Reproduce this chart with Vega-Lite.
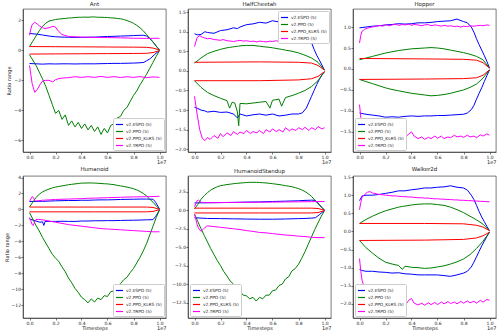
{
"$schema":"https://vega.github.io/schema/vega-lite/v6.json",
"padding":{"left":3,"top":1,"right":0,"bottom":0},
"background":"white",
"config":{"font":"DejaVu Sans","view":{"stroke":"#222","strokeWidth":0.6},
"axis":{"grid":false,"labelOverlap":false,"labelFontSize":4.5,"titleFontSize":5,"titleFontWeight":"normal","tickSize":2,"labelPadding":0.5,"domainColor":"#222","tickColor":"#222","labelColor":"#222","titleColor":"#222","domainWidth":0.6,"tickWidth":0.6,"titlePadding":2},
"title":{"fontSize":5.5,"fontWeight":"normal","offset":2,"color":"#222"},
"legend":{"labelFontSize":4.3,"symbolType":"stroke","symbolStrokeWidth":1.2,"symbolSize":50,"rowPadding":-1,"padding":2,"fillColor":"white","strokeColor":"#ccc","cornerRadius":1,"offset":2,"labelOffset":2,"labelColor":"#222"}},
"datasets":{
"ant":[
{"s":"E","x":0,"hi":1.12,"lo":-0.88},{"s":"E","x":0.05,"hi":1.08,"lo":-0.9},{"s":"E","x":0.1,"hi":1.02,"lo":-0.92},{"s":"E","x":0.15,"hi":0.95,"lo":-0.9},{"s":"E","x":0.2,"hi":0.9,"lo":-0.91},{"s":"E","x":0.25,"hi":0.88,"lo":-0.9},{"s":"E","x":0.3,"hi":0.87,"lo":-0.9},{"s":"E","x":0.35,"hi":0.86,"lo":-0.91},{"s":"E","x":0.4,"hi":0.86,"lo":-0.9},{"s":"E","x":0.45,"hi":0.87,"lo":-0.9},{"s":"E","x":0.5,"hi":0.88,"lo":-0.9},{"s":"E","x":0.55,"hi":0.9,"lo":-0.89},{"s":"E","x":0.6,"hi":0.92,"lo":-0.88},{"s":"E","x":0.65,"hi":0.93,"lo":-0.87},{"s":"E","x":0.7,"hi":0.95,"lo":-0.87},{"s":"E","x":0.75,"hi":0.96,"lo":-0.86},{"s":"E","x":0.8,"hi":0.98,"lo":-0.85},{"s":"E","x":0.85,"hi":1.0,"lo":-0.83},{"s":"E","x":0.88,"hi":1.0,"lo":-0.8},{"s":"E","x":0.9,"hi":0.95,"lo":-0.7},{"s":"E","x":0.93,"hi":0.75,"lo":-0.55},{"s":"E","x":0.96,"hi":0.45,"lo":-0.3},{"s":"E","x":0.98,"hi":0.22,"lo":-0.15},{"s":"E","x":1,"hi":0.02,"lo":-0.02},
{"s":"P","x":0,"hi":0.25,"lo":-0.3},{"s":"P","x":0.025,"hi":0.6,"lo":-0.65},{"s":"P","x":0.05,"hi":0.95,"lo":-1.0},{"s":"P","x":0.075,"hi":1.3,"lo":-1.45},{"s":"P","x":0.1,"hi":1.6,"lo":-1.9},{"s":"P","x":0.125,"hi":1.8,"lo":-2.4},{"s":"P","x":0.15,"hi":1.95,"lo":-3.0},{"s":"P","x":0.175,"hi":2.0,"lo":-3.6},{"s":"P","x":0.2,"hi":2.05,"lo":-4.2},{"s":"P","x":0.225,"hi":2.08,"lo":-4.0},{"s":"P","x":0.25,"hi":2.1,"lo":-4.6},{"s":"P","x":0.275,"hi":2.12,"lo":-4.3},{"s":"P","x":0.3,"hi":2.15,"lo":-5.0},{"s":"P","x":0.325,"hi":2.16,"lo":-4.7},{"s":"P","x":0.35,"hi":2.18,"lo":-5.1},{"s":"P","x":0.375,"hi":2.2,"lo":-4.8},{"s":"P","x":0.4,"hi":2.2,"lo":-5.2},{"s":"P","x":0.425,"hi":2.21,"lo":-4.9},{"s":"P","x":0.45,"hi":2.2,"lo":-5.3},{"s":"P","x":0.475,"hi":2.22,"lo":-5.0},{"s":"P","x":0.5,"hi":2.22,"lo":-5.4},{"s":"P","x":0.525,"hi":2.2,"lo":-5.1},{"s":"P","x":0.55,"hi":2.2,"lo":-5.6},{"s":"P","x":0.575,"hi":2.19,"lo":-5.2},{"s":"P","x":0.6,"hi":2.18,"lo":-5.5},{"s":"P","x":0.625,"hi":2.16,"lo":-5.0},{"s":"P","x":0.65,"hi":2.15,"lo":-4.9},{"s":"P","x":0.675,"hi":2.12,"lo":-4.5},{"s":"P","x":0.7,"hi":2.1,"lo":-4.4},{"s":"P","x":0.725,"hi":2.05,"lo":-4.0},{"s":"P","x":0.75,"hi":1.98,"lo":-3.8},{"s":"P","x":0.775,"hi":1.9,"lo":-3.4},{"s":"P","x":0.8,"hi":1.8,"lo":-3.0},{"s":"P","x":0.825,"hi":1.66,"lo":-2.7},{"s":"P","x":0.85,"hi":1.5,"lo":-2.3},{"s":"P","x":0.875,"hi":1.3,"lo":-1.95},{"s":"P","x":0.9,"hi":1.05,"lo":-1.6},{"s":"P","x":0.925,"hi":0.8,"lo":-1.2},{"s":"P","x":0.95,"hi":0.55,"lo":-0.8},{"s":"P","x":0.975,"hi":0.28,"lo":-0.4},{"s":"P","x":1,"hi":0.02,"lo":-0.02},
{"s":"K","x":0,"hi":0.25,"lo":-0.25},{"s":"K","x":0.2,"hi":0.24,"lo":-0.24},{"s":"K","x":0.4,"hi":0.23,"lo":-0.23},{"s":"K","x":0.6,"hi":0.22,"lo":-0.22},{"s":"K","x":0.8,"hi":0.21,"lo":-0.21},{"s":"K","x":0.9,"hi":0.2,"lo":-0.2},{"s":"K","x":0.95,"hi":0.15,"lo":-0.15},{"s":"K","x":1,"hi":0.02,"lo":-0.02},
{"s":"T","x":0,"hi":1.0,"lo":-1.0},{"s":"T","x":0.01,"hi":1.4,"lo":-1.6},{"s":"T","x":0.02,"hi":1.7,"lo":-2.2},{"s":"T","x":0.04,"hi":1.87,"lo":-2.8},{"s":"T","x":0.06,"hi":1.75,"lo":-2.6},{"s":"T","x":0.08,"hi":1.6,"lo":-2.3},{"s":"T","x":0.1,"hi":1.5,"lo":-2.05},{"s":"T","x":0.12,"hi":1.45,"lo":-2.0},{"s":"T","x":0.15,"hi":1.5,"lo":-2.0},{"s":"T","x":0.18,"hi":1.6,"lo":-2.1},{"s":"T","x":0.2,"hi":1.55,"lo":-1.95},{"s":"T","x":0.22,"hi":1.3,"lo":-1.9},{"s":"T","x":0.25,"hi":1.05,"lo":-1.85},{"s":"T","x":0.3,"hi":0.92,"lo":-1.82},{"s":"T","x":0.35,"hi":0.9,"lo":-1.76},{"s":"T","x":0.4,"hi":0.88,"lo":-1.8},{"s":"T","x":0.45,"hi":0.87,"lo":-1.76},{"s":"T","x":0.5,"hi":0.86,"lo":-1.8},{"s":"T","x":0.55,"hi":0.85,"lo":-1.74},{"s":"T","x":0.6,"hi":0.85,"lo":-1.8},{"s":"T","x":0.65,"hi":0.84,"lo":-1.75},{"s":"T","x":0.7,"hi":0.83,"lo":-1.81},{"s":"T","x":0.75,"hi":0.82,"lo":-1.76},{"s":"T","x":0.8,"hi":0.8,"lo":-1.8},{"s":"T","x":0.85,"hi":0.8,"lo":-1.75},{"s":"T","x":0.9,"hi":0.79,"lo":-1.82},{"s":"T","x":0.95,"hi":0.8,"lo":-1.77},{"s":"T","x":1,"hi":0.8,"lo":-1.8}],
"hc":[
{"s":"E","x":0,"hi":0.95,"lo":-0.93},{"s":"E","x":0.02,"hi":0.92,"lo":-0.95},{"s":"E","x":0.05,"hi":0.93,"lo":-1.0},{"s":"E","x":0.08,"hi":1.0,"lo":-1.02},{"s":"E","x":0.1,"hi":0.98,"lo":-1.05},{"s":"E","x":0.15,"hi":0.96,"lo":-1.03},{"s":"E","x":0.2,"hi":1.03,"lo":-1.06},{"s":"E","x":0.25,"hi":1.05,"lo":-1.05},{"s":"E","x":0.3,"hi":1.1,"lo":-1.1},{"s":"E","x":0.33,"hi":1.08,"lo":-1.2},{"s":"E","x":0.35,"hi":1.12,"lo":-1.1},{"s":"E","x":0.4,"hi":1.18,"lo":-1.15},{"s":"E","x":0.45,"hi":1.2,"lo":-1.12},{"s":"E","x":0.5,"hi":1.24,"lo":-1.1},{"s":"E","x":0.55,"hi":1.22,"lo":-1.13},{"s":"E","x":0.6,"hi":1.28,"lo":-1.1},{"s":"E","x":0.65,"hi":1.25,"lo":-1.15},{"s":"E","x":0.7,"hi":1.24,"lo":-1.13},{"s":"E","x":0.75,"hi":1.22,"lo":-1.1},{"s":"E","x":0.8,"hi":1.2,"lo":-1.1},{"s":"E","x":0.83,"hi":1.15,"lo":-1.07},{"s":"E","x":0.86,"hi":1.05,"lo":-0.95},{"s":"E","x":0.88,"hi":0.9,"lo":-0.8},{"s":"E","x":0.9,"hi":0.72,"lo":-0.65},{"s":"E","x":0.92,"hi":0.55,"lo":-0.5},{"s":"E","x":0.94,"hi":0.4,"lo":-0.35},{"s":"E","x":0.96,"hi":0.28,"lo":-0.22},{"s":"E","x":0.98,"hi":0.15,"lo":-0.1},{"s":"E","x":1,"hi":0.02,"lo":-0.02},
{"s":"P","x":0,"hi":0.2,"lo":-0.25},{"s":"P","x":0.05,"hi":0.33,"lo":-0.42},{"s":"P","x":0.1,"hi":0.44,"lo":-0.55},{"s":"P","x":0.15,"hi":0.5,"lo":-0.63},{"s":"P","x":0.2,"hi":0.55,"lo":-0.7},{"s":"P","x":0.25,"hi":0.59,"lo":-0.76},{"s":"P","x":0.27,"hi":0.6,"lo":-0.95},{"s":"P","x":0.29,"hi":0.61,"lo":-0.8},{"s":"P","x":0.31,"hi":0.62,"lo":-0.82},{"s":"P","x":0.33,"hi":0.63,"lo":-1.05},{"s":"P","x":0.34,"hi":0.63,"lo":-1.4},{"s":"P","x":0.35,"hi":0.64,"lo":-0.83},{"s":"P","x":0.4,"hi":0.65,"lo":-0.84},{"s":"P","x":0.45,"hi":0.65,"lo":-0.82},{"s":"P","x":0.5,"hi":0.63,"lo":-0.8},{"s":"P","x":0.55,"hi":0.61,"lo":-0.78},{"s":"P","x":0.58,"hi":0.6,"lo":-0.95},{"s":"P","x":0.6,"hi":0.59,"lo":-0.75},{"s":"P","x":0.65,"hi":0.56,"lo":-0.72},{"s":"P","x":0.67,"hi":0.55,"lo":-0.9},{"s":"P","x":0.7,"hi":0.53,"lo":-0.68},{"s":"P","x":0.75,"hi":0.5,"lo":-0.63},{"s":"P","x":0.8,"hi":0.46,"lo":-0.57},{"s":"P","x":0.85,"hi":0.4,"lo":-0.5},{"s":"P","x":0.9,"hi":0.33,"lo":-0.4},{"s":"P","x":0.95,"hi":0.22,"lo":-0.25},{"s":"P","x":1,"hi":0.02,"lo":-0.02},
{"s":"K","x":0,"hi":0.22,"lo":-0.25},{"s":"K","x":0.5,"hi":0.23,"lo":-0.25},{"s":"K","x":0.8,"hi":0.22,"lo":-0.23},{"s":"K","x":0.9,"hi":0.2,"lo":-0.2},{"s":"K","x":0.95,"hi":0.14,"lo":-0.14},{"s":"K","x":1,"hi":0.02,"lo":-0.02},
{"s":"T","x":0,"hi":0.62,"lo":-0.65},{"s":"T","x":0.02,"hi":0.85,"lo":-1.1},{"s":"T","x":0.04,"hi":0.9,"lo":-1.5},{"s":"T","x":0.06,"hi":0.86,"lo":-1.72},{"s":"T","x":0.08,"hi":0.84,"lo":-1.78},{"s":"T","x":0.1,"hi":0.82,"lo":-1.7},{"s":"T","x":0.12,"hi":0.83,"lo":-1.75},{"s":"T","x":0.15,"hi":0.8,"lo":-1.65},{"s":"T","x":0.18,"hi":0.79,"lo":-1.72},{"s":"T","x":0.2,"hi":0.78,"lo":-1.6},{"s":"T","x":0.22,"hi":0.8,"lo":-1.68},{"s":"T","x":0.25,"hi":0.77,"lo":-1.58},{"s":"T","x":0.28,"hi":0.76,"lo":-1.65},{"s":"T","x":0.3,"hi":0.75,"lo":-1.55},{"s":"T","x":0.33,"hi":0.77,"lo":-1.62},{"s":"T","x":0.35,"hi":0.78,"lo":-1.56},{"s":"T","x":0.38,"hi":0.76,"lo":-1.6},{"s":"T","x":0.4,"hi":0.77,"lo":-1.52},{"s":"T","x":0.43,"hi":0.75,"lo":-1.6},{"s":"T","x":0.45,"hi":0.76,"lo":-1.55},{"s":"T","x":0.48,"hi":0.74,"lo":-1.58},{"s":"T","x":0.5,"hi":0.76,"lo":-1.52},{"s":"T","x":0.53,"hi":0.75,"lo":-1.6},{"s":"T","x":0.55,"hi":0.74,"lo":-1.5},{"s":"T","x":0.58,"hi":0.76,"lo":-1.56},{"s":"T","x":0.6,"hi":0.75,"lo":-1.48},{"s":"T","x":0.63,"hi":0.77,"lo":-1.55},{"s":"T","x":0.65,"hi":0.75,"lo":-1.5},{"s":"T","x":0.68,"hi":0.76,"lo":-1.56},{"s":"T","x":0.7,"hi":0.77,"lo":-1.45},{"s":"T","x":0.73,"hi":0.74,"lo":-1.53},{"s":"T","x":0.75,"hi":0.75,"lo":-1.48},{"s":"T","x":0.78,"hi":0.76,"lo":-1.52},{"s":"T","x":0.8,"hi":0.74,"lo":-1.45},{"s":"T","x":0.83,"hi":0.75,"lo":-1.5},{"s":"T","x":0.85,"hi":0.74,"lo":-1.44},{"s":"T","x":0.88,"hi":0.75,"lo":-1.52},{"s":"T","x":0.9,"hi":0.73,"lo":-1.45},{"s":"T","x":0.93,"hi":0.75,"lo":-1.5},{"s":"T","x":0.95,"hi":0.74,"lo":-1.42},{"s":"T","x":0.98,"hi":0.75,"lo":-1.48},{"s":"T","x":1,"hi":0.74,"lo":-1.45}],
"hop":[
{"s":"E","x":0,"hi":0.98,"lo":-1.05},{"s":"E","x":0.05,"hi":1.0,"lo":-1.08},{"s":"E","x":0.1,"hi":1.02,"lo":-1.1},{"s":"E","x":0.15,"hi":1.03,"lo":-1.12},{"s":"E","x":0.2,"hi":1.05,"lo":-1.15},{"s":"E","x":0.25,"hi":1.06,"lo":-1.14},{"s":"E","x":0.3,"hi":1.08,"lo":-1.15},{"s":"E","x":0.35,"hi":1.07,"lo":-1.13},{"s":"E","x":0.4,"hi":1.08,"lo":-1.12},{"s":"E","x":0.45,"hi":1.1,"lo":-1.13},{"s":"E","x":0.5,"hi":1.1,"lo":-1.12},{"s":"E","x":0.55,"hi":1.11,"lo":-1.12},{"s":"E","x":0.6,"hi":1.13,"lo":-1.11},{"s":"E","x":0.65,"hi":1.14,"lo":-1.11},{"s":"E","x":0.7,"hi":1.15,"lo":-1.1},{"s":"E","x":0.75,"hi":1.19,"lo":-1.09},{"s":"E","x":0.8,"hi":1.13,"lo":-1.08},{"s":"E","x":0.83,"hi":1.1,"lo":-1.05},{"s":"E","x":0.86,"hi":1.0,"lo":-0.97},{"s":"E","x":0.88,"hi":0.88,"lo":-0.87},{"s":"E","x":0.9,"hi":0.72,"lo":-0.72},{"s":"E","x":0.92,"hi":0.58,"lo":-0.58},{"s":"E","x":0.94,"hi":0.45,"lo":-0.45},{"s":"E","x":0.96,"hi":0.32,"lo":-0.3},{"s":"E","x":0.98,"hi":0.18,"lo":-0.16},{"s":"E","x":1,"hi":0.02,"lo":-0.02},
{"s":"P","x":0,"hi":0.22,"lo":-0.25},{"s":"P","x":0.05,"hi":0.26,"lo":-0.3},{"s":"P","x":0.1,"hi":0.3,"lo":-0.35},{"s":"P","x":0.15,"hi":0.34,"lo":-0.4},{"s":"P","x":0.2,"hi":0.38,"lo":-0.45},{"s":"P","x":0.25,"hi":0.41,"lo":-0.49},{"s":"P","x":0.3,"hi":0.44,"lo":-0.52},{"s":"P","x":0.35,"hi":0.46,"lo":-0.55},{"s":"P","x":0.4,"hi":0.48,"lo":-0.58},{"s":"P","x":0.45,"hi":0.49,"lo":-0.6},{"s":"P","x":0.5,"hi":0.5,"lo":-0.62},{"s":"P","x":0.55,"hi":0.51,"lo":-0.64},{"s":"P","x":0.6,"hi":0.5,"lo":-0.63},{"s":"P","x":0.65,"hi":0.48,"lo":-0.61},{"s":"P","x":0.7,"hi":0.45,"lo":-0.58},{"s":"P","x":0.75,"hi":0.42,"lo":-0.54},{"s":"P","x":0.8,"hi":0.39,"lo":-0.5},{"s":"P","x":0.85,"hi":0.35,"lo":-0.44},{"s":"P","x":0.9,"hi":0.3,"lo":-0.36},{"s":"P","x":0.95,"hi":0.22,"lo":-0.22},{"s":"P","x":1,"hi":0.02,"lo":-0.02},
{"s":"K","x":0,"hi":0.25,"lo":-0.25},{"s":"K","x":0.5,"hi":0.24,"lo":-0.24},{"s":"K","x":0.8,"hi":0.23,"lo":-0.23},{"s":"K","x":0.9,"hi":0.21,"lo":-0.21},{"s":"K","x":0.95,"hi":0.15,"lo":-0.15},{"s":"K","x":1,"hi":0.02,"lo":-0.02},
{"s":"T","x":0,"hi":0.62,"lo":-0.85},{"s":"T","x":0.01,"hi":0.8,"lo":-1.15},{"s":"T","x":0.02,"hi":0.9,"lo":-1.35},{"s":"T","x":0.04,"hi":0.95,"lo":-1.5},{"s":"T","x":0.06,"hi":0.97,"lo":-1.6},{"s":"T","x":0.08,"hi":0.99,"lo":-1.63},{"s":"T","x":0.1,"hi":1.0,"lo":-1.66},{"s":"T","x":0.13,"hi":1.02,"lo":-1.62},{"s":"T","x":0.15,"hi":1.04,"lo":-1.68},{"s":"T","x":0.18,"hi":1.02,"lo":-1.63},{"s":"T","x":0.2,"hi":1.06,"lo":-1.66},{"s":"T","x":0.23,"hi":1.03,"lo":-1.6},{"s":"T","x":0.25,"hi":1.05,"lo":-1.65},{"s":"T","x":0.28,"hi":1.07,"lo":-1.62},{"s":"T","x":0.3,"hi":1.04,"lo":-1.66},{"s":"T","x":0.33,"hi":1.06,"lo":-1.6},{"s":"T","x":0.35,"hi":1.05,"lo":-1.63},{"s":"T","x":0.38,"hi":1.07,"lo":-1.55},{"s":"T","x":0.4,"hi":1.04,"lo":-1.5},{"s":"T","x":0.42,"hi":1.06,"lo":-1.6},{"s":"T","x":0.45,"hi":1.05,"lo":-1.66},{"s":"T","x":0.48,"hi":1.03,"lo":-1.62},{"s":"T","x":0.5,"hi":1.05,"lo":-1.68},{"s":"T","x":0.53,"hi":1.06,"lo":-1.63},{"s":"T","x":0.55,"hi":1.03,"lo":-1.66},{"s":"T","x":0.58,"hi":1.05,"lo":-1.6},{"s":"T","x":0.6,"hi":1.04,"lo":-1.65},{"s":"T","x":0.63,"hi":1.02,"lo":-1.6},{"s":"T","x":0.65,"hi":1.04,"lo":-1.66},{"s":"T","x":0.68,"hi":1.02,"lo":-1.62},{"s":"T","x":0.7,"hi":1.03,"lo":-1.64},{"s":"T","x":0.73,"hi":1.01,"lo":-1.58},{"s":"T","x":0.75,"hi":1.02,"lo":-1.62},{"s":"T","x":0.78,"hi":1.0,"lo":-1.6},{"s":"T","x":0.8,"hi":1.02,"lo":-1.63},{"s":"T","x":0.83,"hi":1.01,"lo":-1.58},{"s":"T","x":0.85,"hi":1.03,"lo":-1.62},{"s":"T","x":0.88,"hi":1.02,"lo":-1.6},{"s":"T","x":0.9,"hi":1.03,"lo":-1.64},{"s":"T","x":0.93,"hi":1.04,"lo":-1.57},{"s":"T","x":0.95,"hi":1.03,"lo":-1.6},{"s":"T","x":0.98,"hi":1.05,"lo":-1.55},{"s":"T","x":1,"hi":1.04,"lo":-1.58}],
"hum":[
{"s":"E","x":0,"hi":1.0,"lo":-1.2},{"s":"E","x":0.05,"hi":1.0,"lo":-1.45},{"s":"E","x":0.08,"hi":1.02,"lo":-1.6},{"s":"E","x":0.1,"hi":1.02,"lo":-1.55},{"s":"E","x":0.11,"hi":1.0,"lo":-2.0},{"s":"E","x":0.12,"hi":1.03,"lo":-1.5},{"s":"E","x":0.15,"hi":1.05,"lo":-1.5},{"s":"E","x":0.2,"hi":1.08,"lo":-1.5},{"s":"E","x":0.25,"hi":1.1,"lo":-1.48},{"s":"E","x":0.3,"hi":1.12,"lo":-1.5},{"s":"E","x":0.35,"hi":1.12,"lo":-1.5},{"s":"E","x":0.4,"hi":1.15,"lo":-1.45},{"s":"E","x":0.45,"hi":1.15,"lo":-1.45},{"s":"E","x":0.5,"hi":1.18,"lo":-1.42},{"s":"E","x":0.55,"hi":1.2,"lo":-1.42},{"s":"E","x":0.6,"hi":1.2,"lo":-1.4},{"s":"E","x":0.65,"hi":1.22,"lo":-1.4},{"s":"E","x":0.7,"hi":1.25,"lo":-1.38},{"s":"E","x":0.75,"hi":1.27,"lo":-1.36},{"s":"E","x":0.8,"hi":1.28,"lo":-1.35},{"s":"E","x":0.85,"hi":1.3,"lo":-1.33},{"s":"E","x":0.9,"hi":1.3,"lo":-1.3},{"s":"E","x":0.95,"hi":1.28,"lo":-1.28},{"s":"E","x":0.97,"hi":0.9,"lo":-0.9},{"s":"E","x":0.99,"hi":0.35,"lo":-0.35},{"s":"E","x":1,"hi":0.02,"lo":-0.02},
{"s":"P","x":0,"hi":0.3,"lo":-0.4},{"s":"P","x":0.025,"hi":0.9,"lo":-1.2},{"s":"P","x":0.05,"hi":1.5,"lo":-2.0},{"s":"P","x":0.075,"hi":1.9,"lo":-2.7},{"s":"P","x":0.1,"hi":2.2,"lo":-3.5},{"s":"P","x":0.125,"hi":2.4,"lo":-4.2},{"s":"P","x":0.15,"hi":2.55,"lo":-4.9},{"s":"P","x":0.175,"hi":2.7,"lo":-5.6},{"s":"P","x":0.2,"hi":2.8,"lo":-6.1},{"s":"P","x":0.225,"hi":2.88,"lo":-6.5},{"s":"P","x":0.25,"hi":2.95,"lo":-7.2},{"s":"P","x":0.275,"hi":3.02,"lo":-7.8},{"s":"P","x":0.3,"hi":3.1,"lo":-8.6},{"s":"P","x":0.325,"hi":3.15,"lo":-9.2},{"s":"P","x":0.35,"hi":3.2,"lo":-9.9},{"s":"P","x":0.375,"hi":3.25,"lo":-10.4},{"s":"P","x":0.4,"hi":3.3,"lo":-11.0},{"s":"P","x":0.425,"hi":3.3,"lo":-11.3},{"s":"P","x":0.45,"hi":3.32,"lo":-11.7},{"s":"P","x":0.475,"hi":3.32,"lo":-11.2},{"s":"P","x":0.5,"hi":3.3,"lo":-11.6},{"s":"P","x":0.525,"hi":3.28,"lo":-11.1},{"s":"P","x":0.55,"hi":3.25,"lo":-11.3},{"s":"P","x":0.575,"hi":3.22,"lo":-10.8},{"s":"P","x":0.6,"hi":3.2,"lo":-10.9},{"s":"P","x":0.625,"hi":3.15,"lo":-10.3},{"s":"P","x":0.65,"hi":3.1,"lo":-10.2},{"s":"P","x":0.675,"hi":3.02,"lo":-9.6},{"s":"P","x":0.7,"hi":2.95,"lo":-9.3},{"s":"P","x":0.725,"hi":2.88,"lo":-8.8},{"s":"P","x":0.75,"hi":2.8,"lo":-8.5},{"s":"P","x":0.775,"hi":2.7,"lo":-7.9},{"s":"P","x":0.8,"hi":2.6,"lo":-7.4},{"s":"P","x":0.825,"hi":2.45,"lo":-6.7},{"s":"P","x":0.85,"hi":2.25,"lo":-6.0},{"s":"P","x":0.875,"hi":2.0,"lo":-5.2},{"s":"P","x":0.9,"hi":1.7,"lo":-4.3},{"s":"P","x":0.925,"hi":1.3,"lo":-3.2},{"s":"P","x":0.95,"hi":0.9,"lo":-2.1},{"s":"P","x":0.975,"hi":0.45,"lo":-1.0},{"s":"P","x":1,"hi":0.02,"lo":-0.05},
{"s":"K","x":0,"hi":0.3,"lo":-0.3},{"s":"K","x":0.5,"hi":0.3,"lo":-0.3},{"s":"K","x":0.9,"hi":0.3,"lo":-0.3},{"s":"K","x":0.95,"hi":0.25,"lo":-0.25},{"s":"K","x":1,"hi":0.02,"lo":-0.02},
{"s":"T","x":0,"hi":1.0,"lo":-1.0},{"s":"T","x":0.01,"hi":1.3,"lo":-1.4},{"s":"T","x":0.02,"hi":1.6,"lo":-1.9},{"s":"T","x":0.03,"hi":1.5,"lo":-2.0},{"s":"T","x":0.04,"hi":1.1,"lo":-1.5},{"s":"T","x":0.05,"hi":1.05,"lo":-1.25},{"s":"T","x":0.07,"hi":1.1,"lo":-1.25},{"s":"T","x":0.1,"hi":1.15,"lo":-1.3},{"s":"T","x":0.15,"hi":1.2,"lo":-1.45},{"s":"T","x":0.2,"hi":1.25,"lo":-1.6},{"s":"T","x":0.25,"hi":1.28,"lo":-1.75},{"s":"T","x":0.3,"hi":1.3,"lo":-1.9},{"s":"T","x":0.35,"hi":1.33,"lo":-2.0},{"s":"T","x":0.4,"hi":1.35,"lo":-2.1},{"s":"T","x":0.45,"hi":1.4,"lo":-2.2},{"s":"T","x":0.5,"hi":1.42,"lo":-2.3},{"s":"T","x":0.55,"hi":1.45,"lo":-2.4},{"s":"T","x":0.6,"hi":1.47,"lo":-2.45},{"s":"T","x":0.65,"hi":1.5,"lo":-2.5},{"s":"T","x":0.7,"hi":1.52,"lo":-2.55},{"s":"T","x":0.75,"hi":1.55,"lo":-2.6},{"s":"T","x":0.8,"hi":1.57,"lo":-2.65},{"s":"T","x":0.85,"hi":1.58,"lo":-2.7},{"s":"T","x":0.9,"hi":1.6,"lo":-2.75},{"s":"T","x":0.95,"hi":1.62,"lo":-2.8},{"s":"T","x":1,"hi":1.65,"lo":-2.8}],
"hs":[
{"s":"E","x":0,"hi":1.0,"lo":-1.0},{"s":"E","x":0.05,"hi":1.02,"lo":-1.05},{"s":"E","x":0.1,"hi":1.03,"lo":-1.1},{"s":"E","x":0.2,"hi":1.05,"lo":-1.12},{"s":"E","x":0.3,"hi":1.08,"lo":-1.15},{"s":"E","x":0.4,"hi":1.12,"lo":-1.18},{"s":"E","x":0.5,"hi":1.15,"lo":-1.2},{"s":"E","x":0.6,"hi":1.2,"lo":-1.2},{"s":"E","x":0.7,"hi":1.25,"lo":-1.17},{"s":"E","x":0.8,"hi":1.3,"lo":-1.12},{"s":"E","x":0.85,"hi":1.35,"lo":-1.1},{"s":"E","x":0.9,"hi":1.38,"lo":-1.05},{"s":"E","x":0.93,"hi":1.35,"lo":-1.0},{"s":"E","x":0.96,"hi":0.8,"lo":-0.6},{"s":"E","x":0.98,"hi":0.4,"lo":-0.3},{"s":"E","x":1,"hi":0.02,"lo":-0.02},
{"s":"P","x":0,"hi":0.2,"lo":-0.5},{"s":"P","x":0.025,"hi":0.8,"lo":-1.5},{"s":"P","x":0.05,"hi":1.5,"lo":-2.5},{"s":"P","x":0.075,"hi":2.0,"lo":-3.4},{"s":"P","x":0.1,"hi":2.4,"lo":-4.3},{"s":"P","x":0.125,"hi":2.75,"lo":-5.2},{"s":"P","x":0.15,"hi":3.0,"lo":-6.0},{"s":"P","x":0.175,"hi":3.2,"lo":-6.8},{"s":"P","x":0.2,"hi":3.35,"lo":-7.5},{"s":"P","x":0.225,"hi":3.42,"lo":-8.3},{"s":"P","x":0.25,"hi":3.5,"lo":-8.9},{"s":"P","x":0.275,"hi":3.55,"lo":-9.6},{"s":"P","x":0.3,"hi":3.62,"lo":-10.0},{"s":"P","x":0.325,"hi":3.66,"lo":-10.7},{"s":"P","x":0.35,"hi":3.7,"lo":-11.0},{"s":"P","x":0.375,"hi":3.74,"lo":-11.5},{"s":"P","x":0.4,"hi":3.78,"lo":-11.6},{"s":"P","x":0.425,"hi":3.8,"lo":-12.0},{"s":"P","x":0.45,"hi":3.8,"lo":-11.8},{"s":"P","x":0.475,"hi":3.8,"lo":-12.3},{"s":"P","x":0.5,"hi":3.78,"lo":-11.8},{"s":"P","x":0.525,"hi":3.75,"lo":-12.0},{"s":"P","x":0.55,"hi":3.72,"lo":-11.5},{"s":"P","x":0.575,"hi":3.67,"lo":-11.5},{"s":"P","x":0.6,"hi":3.62,"lo":-10.9},{"s":"P","x":0.625,"hi":3.56,"lo":-10.8},{"s":"P","x":0.65,"hi":3.5,"lo":-10.2},{"s":"P","x":0.675,"hi":3.43,"lo":-10.0},{"s":"P","x":0.7,"hi":3.35,"lo":-9.3},{"s":"P","x":0.725,"hi":3.28,"lo":-9.0},{"s":"P","x":0.75,"hi":3.2,"lo":-8.2},{"s":"P","x":0.775,"hi":3.08,"lo":-7.9},{"s":"P","x":0.8,"hi":2.95,"lo":-7.3},{"s":"P","x":0.825,"hi":2.78,"lo":-6.5},{"s":"P","x":0.85,"hi":2.55,"lo":-5.6},{"s":"P","x":0.875,"hi":2.25,"lo":-4.6},{"s":"P","x":0.9,"hi":1.9,"lo":-3.6},{"s":"P","x":0.925,"hi":1.4,"lo":-2.6},{"s":"P","x":0.95,"hi":0.9,"lo":-1.7},{"s":"P","x":0.975,"hi":0.45,"lo":-0.8},{"s":"P","x":1,"hi":0.02,"lo":-0.05},
{"s":"K","x":0,"hi":0.3,"lo":-0.35},{"s":"K","x":0.5,"hi":0.3,"lo":-0.35},{"s":"K","x":0.9,"hi":0.3,"lo":-0.35},{"s":"K","x":0.95,"hi":0.25,"lo":-0.3},{"s":"K","x":1,"hi":0.02,"lo":-0.02},
{"s":"T","x":0,"hi":0.5,"lo":-0.5},{"s":"T","x":0.01,"hi":0.9,"lo":-1.2},{"s":"T","x":0.02,"hi":1.3,"lo":-1.9},{"s":"T","x":0.03,"hi":1.4,"lo":-2.4},{"s":"T","x":0.05,"hi":1.1,"lo":-2.85},{"s":"T","x":0.07,"hi":1.05,"lo":-2.5},{"s":"T","x":0.09,"hi":1.05,"lo":-2.2},{"s":"T","x":0.1,"hi":1.05,"lo":-2.1},{"s":"T","x":0.15,"hi":1.05,"lo":-2.2},{"s":"T","x":0.2,"hi":1.06,"lo":-2.3},{"s":"T","x":0.25,"hi":1.07,"lo":-2.4},{"s":"T","x":0.3,"hi":1.08,"lo":-2.5},{"s":"T","x":0.35,"hi":1.08,"lo":-2.6},{"s":"T","x":0.4,"hi":1.09,"lo":-2.75},{"s":"T","x":0.45,"hi":1.1,"lo":-2.85},{"s":"T","x":0.5,"hi":1.1,"lo":-3.0},{"s":"T","x":0.55,"hi":1.11,"lo":-3.05},{"s":"T","x":0.6,"hi":1.12,"lo":-3.15},{"s":"T","x":0.65,"hi":1.13,"lo":-3.25},{"s":"T","x":0.7,"hi":1.14,"lo":-3.35},{"s":"T","x":0.75,"hi":1.15,"lo":-3.4},{"s":"T","x":0.8,"hi":1.16,"lo":-3.5},{"s":"T","x":0.85,"hi":1.17,"lo":-3.55},{"s":"T","x":0.9,"hi":1.18,"lo":-3.65},{"s":"T","x":0.95,"hi":1.19,"lo":-3.7},{"s":"T","x":1,"hi":1.2,"lo":-3.7}],
"wk":[
{"s":"E","x":0,"hi":0.85,"lo":-1.05},{"s":"E","x":0.02,"hi":0.98,"lo":-1.08},{"s":"E","x":0.05,"hi":1.0,"lo":-1.1},{"s":"E","x":0.1,"hi":1.0,"lo":-1.1},{"s":"E","x":0.15,"hi":1.02,"lo":-1.12},{"s":"E","x":0.2,"hi":1.05,"lo":-1.13},{"s":"E","x":0.25,"hi":1.08,"lo":-1.15},{"s":"E","x":0.3,"hi":1.12,"lo":-1.14},{"s":"E","x":0.35,"hi":1.12,"lo":-1.17},{"s":"E","x":0.4,"hi":1.15,"lo":-1.18},{"s":"E","x":0.45,"hi":1.17,"lo":-1.2},{"s":"E","x":0.5,"hi":1.2,"lo":-1.2},{"s":"E","x":0.55,"hi":1.2,"lo":-1.2},{"s":"E","x":0.6,"hi":1.22,"lo":-1.2},{"s":"E","x":0.65,"hi":1.23,"lo":-1.22},{"s":"E","x":0.7,"hi":1.26,"lo":-1.24},{"s":"E","x":0.75,"hi":1.22,"lo":-1.2},{"s":"E","x":0.8,"hi":1.2,"lo":-1.15},{"s":"E","x":0.83,"hi":1.14,"lo":-1.1},{"s":"E","x":0.86,"hi":1.0,"lo":-0.98},{"s":"E","x":0.88,"hi":0.88,"lo":-0.85},{"s":"E","x":0.9,"hi":0.72,"lo":-0.7},{"s":"E","x":0.92,"hi":0.55,"lo":-0.55},{"s":"E","x":0.94,"hi":0.4,"lo":-0.4},{"s":"E","x":0.96,"hi":0.27,"lo":-0.27},{"s":"E","x":0.98,"hi":0.14,"lo":-0.14},{"s":"E","x":1,"hi":0.02,"lo":-0.02},
{"s":"P","x":0,"hi":0.22,"lo":-0.25},{"s":"P","x":0.05,"hi":0.33,"lo":-0.45},{"s":"P","x":0.1,"hi":0.42,"lo":-0.6},{"s":"P","x":0.15,"hi":0.5,"lo":-0.74},{"s":"P","x":0.2,"hi":0.57,"lo":-0.85},{"s":"P","x":0.25,"hi":0.62,"lo":-0.9},{"s":"P","x":0.3,"hi":0.67,"lo":-0.94},{"s":"P","x":0.33,"hi":0.69,"lo":-1.05},{"s":"P","x":0.35,"hi":0.7,"lo":-0.96},{"s":"P","x":0.4,"hi":0.73,"lo":-0.99},{"s":"P","x":0.45,"hi":0.75,"lo":-1.0},{"s":"P","x":0.5,"hi":0.76,"lo":-1.02},{"s":"P","x":0.55,"hi":0.76,"lo":-1.01},{"s":"P","x":0.6,"hi":0.74,"lo":-0.98},{"s":"P","x":0.65,"hi":0.72,"lo":-0.95},{"s":"P","x":0.7,"hi":0.67,"lo":-0.9},{"s":"P","x":0.75,"hi":0.6,"lo":-0.84},{"s":"P","x":0.8,"hi":0.52,"lo":-0.76},{"s":"P","x":0.85,"hi":0.42,"lo":-0.64},{"s":"P","x":0.9,"hi":0.32,"lo":-0.47},{"s":"P","x":0.95,"hi":0.2,"lo":-0.27},{"s":"P","x":1,"hi":0.02,"lo":-0.02},
{"s":"K","x":0,"hi":0.22,"lo":-0.25},{"s":"K","x":0.5,"hi":0.22,"lo":-0.24},{"s":"K","x":0.8,"hi":0.21,"lo":-0.22},{"s":"K","x":0.9,"hi":0.17,"lo":-0.18},{"s":"K","x":0.95,"hi":0.12,"lo":-0.12},{"s":"K","x":1,"hi":0.02,"lo":-0.02},
{"s":"T","x":0,"hi":0.6,"lo":-0.75},{"s":"T","x":0.01,"hi":0.8,"lo":-1.1},{"s":"T","x":0.02,"hi":0.95,"lo":-1.35},{"s":"T","x":0.04,"hi":1.02,"lo":-1.6},{"s":"T","x":0.06,"hi":1.08,"lo":-1.8},{"s":"T","x":0.08,"hi":1.1,"lo":-1.9},{"s":"T","x":0.1,"hi":1.06,"lo":-1.95},{"s":"T","x":0.13,"hi":1.04,"lo":-2.0},{"s":"T","x":0.15,"hi":1.02,"lo":-2.05},{"s":"T","x":0.18,"hi":1.01,"lo":-2.0},{"s":"T","x":0.2,"hi":1.0,"lo":-2.08},{"s":"T","x":0.23,"hi":0.99,"lo":-2.02},{"s":"T","x":0.25,"hi":0.98,"lo":-2.07},{"s":"T","x":0.28,"hi":0.98,"lo":-2.0},{"s":"T","x":0.3,"hi":0.97,"lo":-2.05},{"s":"T","x":0.33,"hi":0.96,"lo":-2.0},{"s":"T","x":0.35,"hi":0.96,"lo":-2.04},{"s":"T","x":0.38,"hi":0.95,"lo":-1.9},{"s":"T","x":0.4,"hi":0.95,"lo":-1.85},{"s":"T","x":0.42,"hi":0.94,"lo":-1.98},{"s":"T","x":0.45,"hi":0.93,"lo":-2.03},{"s":"T","x":0.48,"hi":0.93,"lo":-1.98},{"s":"T","x":0.5,"hi":0.92,"lo":-2.04},{"s":"T","x":0.53,"hi":0.92,"lo":-1.97},{"s":"T","x":0.55,"hi":0.91,"lo":-2.02},{"s":"T","x":0.58,"hi":0.9,"lo":-1.96},{"s":"T","x":0.6,"hi":0.9,"lo":-2.02},{"s":"T","x":0.63,"hi":0.89,"lo":-1.95},{"s":"T","x":0.65,"hi":0.89,"lo":-2.0},{"s":"T","x":0.68,"hi":0.88,"lo":-1.94},{"s":"T","x":0.7,"hi":0.88,"lo":-1.99},{"s":"T","x":0.73,"hi":0.87,"lo":-1.95},{"s":"T","x":0.75,"hi":0.87,"lo":-2.0},{"s":"T","x":0.78,"hi":0.86,"lo":-1.93},{"s":"T","x":0.8,"hi":0.86,"lo":-1.98},{"s":"T","x":0.83,"hi":0.85,"lo":-1.92},{"s":"T","x":0.85,"hi":0.85,"lo":-1.97},{"s":"T","x":0.88,"hi":0.84,"lo":-1.93},{"s":"T","x":0.9,"hi":0.84,"lo":-1.98},{"s":"T","x":0.93,"hi":0.83,"lo":-1.9},{"s":"T","x":0.95,"hi":0.83,"lo":-1.95},{"s":"T","x":0.98,"hi":0.82,"lo":-1.88},{"s":"T","x":1,"hi":0.82,"lo":-1.9}]
},
"spacing":1,
"resolve":{"scale":{"x":"independent","y":"independent","color":"independent"},"legend":{"color":"independent"}},
"vconcat":[
{"hconcat":[
{"title":"Ant","width":143,"height":143,"data":{"name":"ant"},"resolve":{"axis":{"x":"independent"}},
"layer":[
{"mark":{"type":"line","strokeWidth":1},"encoding":{
"x":{"field":"x","type":"quantitative","scale":{"domain":[-0.05,1.05],"nice":false,"zero":false},"axis":{"values":[0,0.2,0.4,0.6,0.8,1],"format":".1f","title":null,"labelOverlap":false}},
"y":{"field":"hi","type":"quantitative","scale":{"domain":[-6.77,2.75],"nice":false,"zero":false},"axis":{"values":[-6,-4,-2,0,2],"format":"d","title":"Ratio range","labelOverlap":false}},
"color":{"field":"s","type":"nominal","scale":{"domain":["E","P","K","T"],"range":["#0000ff","#008000","#ff0000","#ff00ff"]},"legend":{"orient":"bottom-right","title":null,"labelExpr":"datum.label == 'E' ? 'v2.ESPO (5)' : datum.label == 'P' ? 'v2.PPO (5)' : datum.label == 'K' ? 'v2.PPO_KLRS (5)' : 'v2.TRPO (5)'"}}}},
{"mark":{"type":"line","strokeWidth":1},"encoding":{
"x":{"field":"x","type":"quantitative","axis":{"orient":"bottom","title":"1e7","titleAnchor":"end","labels":false,"ticks":false,"domain":false,"titleY":9.5,"titleBaseline":"middle"}},
"y":{"field":"lo","type":"quantitative","axis":{"values":[-6,-4,-2,0,2],"format":"d","title":"Ratio range","labelOverlap":false}},
"color":{"field":"s","type":"nominal"}}}]},
{"title":"HalfCheetah","width":143,"height":143,"data":{"name":"hc"},"resolve":{"axis":{"x":"independent"}},
"layer":[
{"mark":{"type":"line","strokeWidth":1},"encoding":{
"x":{"field":"x","type":"quantitative","scale":{"domain":[-0.05,1.05],"nice":false,"zero":false},"axis":{"values":[0,0.2,0.4,0.6,0.8,1],"format":".1f","title":null,"labelOverlap":false}},
"y":{"field":"hi","type":"quantitative","scale":{"domain":[-2.07,1.58],"nice":false,"zero":false},"axis":{"values":[-2,-1.5,-1,-0.5,0,0.5,1,1.5],"format":".1f","title":null,"labelOverlap":false}},
"color":{"field":"s","type":"nominal","scale":{"domain":["E","P","K","T"],"range":["#0000ff","#008000","#ff0000","#ff00ff"]},"legend":{"orient":"top-right","title":null,"labelExpr":"datum.label == 'E' ? 'v2.ESPO (5)' : datum.label == 'P' ? 'v2.PPO (5)' : datum.label == 'K' ? 'v2.PPO_KLRS (5)' : 'v2.TRPO (5)'"}}}},
{"mark":{"type":"line","strokeWidth":1},"encoding":{
"x":{"field":"x","type":"quantitative","axis":{"orient":"bottom","title":"1e7","titleAnchor":"end","labels":false,"ticks":false,"domain":false,"titleY":9.5,"titleBaseline":"middle"}},
"y":{"field":"lo","type":"quantitative","axis":{"values":[-2,-1.5,-1,-0.5,0,0.5,1,1.5],"format":".1f","title":null,"labelOverlap":false}},
"color":{"field":"s","type":"nominal"}}}]},
{"title":"Hopper","width":143,"height":143,"data":{"name":"hop"},"resolve":{"axis":{"x":"independent"}},
"layer":[
{"mark":{"type":"line","strokeWidth":1},"encoding":{
"x":{"field":"x","type":"quantitative","scale":{"domain":[-0.05,1.05],"nice":false,"zero":false},"axis":{"values":[0,0.2,0.4,0.6,0.8,1],"format":".1f","title":null,"labelOverlap":false}},
"y":{"field":"hi","type":"quantitative","scale":{"domain":[-1.98,1.43],"nice":false,"zero":false},"axis":{"values":[-1.5,-1,-0.5,0,0.5,1],"format":".1f","title":null,"labelOverlap":false}},
"color":{"field":"s","type":"nominal","scale":{"domain":["E","P","K","T"],"range":["#0000ff","#008000","#ff0000","#ff00ff"]},"legend":{"orient":"bottom-left","title":null,"labelExpr":"datum.label == 'E' ? 'v2.ESPO (5)' : datum.label == 'P' ? 'v2.PPO (5)' : datum.label == 'K' ? 'v2.PPO_KLRS (5)' : 'v2.TRPO (5)'"}}}},
{"mark":{"type":"line","strokeWidth":1},"encoding":{
"x":{"field":"x","type":"quantitative","axis":{"orient":"bottom","title":"1e7","titleAnchor":"end","labels":false,"ticks":false,"domain":false,"titleY":9.5,"titleBaseline":"middle"}},
"y":{"field":"lo","type":"quantitative","axis":{"values":[-1.5,-1,-0.5,0,0.5,1],"format":".1f","title":null,"labelOverlap":false}},
"color":{"field":"s","type":"nominal"}}}]}
],"spacing":22,"bounds":"flush","resolve":{"scale":{"x":"independent","y":"independent","color":"independent"},"legend":{"color":"independent"}}},
{"hconcat":[
{"title":"Humanoid","width":143,"height":142,"data":{"name":"hum"},"resolve":{"axis":{"x":"independent"}},
"layer":[
{"mark":{"type":"line","strokeWidth":1},"encoding":{
"x":{"field":"x","type":"quantitative","scale":{"domain":[-0.05,1.05],"nice":false,"zero":false},"axis":{"values":[0,0.2,0.4,0.6,0.8,1],"format":".1f","title":"Timesteps","titleY":9.5,"titleBaseline":"middle","labelOverlap":false}},
"y":{"field":"hi","type":"quantitative","scale":{"domain":[-13.6,4.19],"nice":false,"zero":false},"axis":{"values":[-12,-10,-8,-6,-4,-2,0,2,4],"format":"d","title":"Ratio range","labelOverlap":false}},
"color":{"field":"s","type":"nominal","scale":{"domain":["E","P","K","T"],"range":["#0000ff","#008000","#ff0000","#ff00ff"]},"legend":{"orient":"bottom-right","title":null,"labelExpr":"datum.label == 'E' ? 'v2.ESPO (5)' : datum.label == 'P' ? 'v2.PPO (5)' : datum.label == 'K' ? 'v2.PPO_KLRS (5)' : 'v2.TRPO (5)'"}}}},
{"mark":{"type":"line","strokeWidth":1},"encoding":{
"x":{"field":"x","type":"quantitative","axis":{"orient":"bottom","title":"1e7","titleAnchor":"end","labels":false,"ticks":false,"domain":false,"titleY":9.5,"titleBaseline":"middle"}},
"y":{"field":"lo","type":"quantitative","axis":{"values":[-12,-10,-8,-6,-4,-2,0,2,4],"format":"d","title":"Ratio range","labelOverlap":false}},
"color":{"field":"s","type":"nominal"}}}]},
{"title":"HumanoidStandup","width":143,"height":142,"data":{"name":"hs"},"resolve":{"axis":{"x":"independent"}},
"layer":[
{"mark":{"type":"line","strokeWidth":1},"encoding":{
"x":{"field":"x","type":"quantitative","scale":{"domain":[-0.05,1.05],"nice":false,"zero":false},"axis":{"values":[0,0.2,0.4,0.6,0.8,1],"format":".1f","title":"Timesteps","titleY":9.5,"titleBaseline":"middle","labelOverlap":false}},
"y":{"field":"hi","type":"quantitative","scale":{"domain":[-14.6,4.66],"nice":false,"zero":false},"axis":{"values":[-12.5,-10,-7.5,-5,-2.5,0,2.5],"format":".1f","title":null,"labelOverlap":false}},
"color":{"field":"s","type":"nominal","scale":{"domain":["E","P","K","T"],"range":["#0000ff","#008000","#ff0000","#ff00ff"]},"legend":{"orient":"bottom-left","title":null,"labelExpr":"datum.label == 'E' ? 'v2.ESPO (5)' : datum.label == 'P' ? 'v2.PPO (5)' : datum.label == 'K' ? 'v2.PPO_KLRS (5)' : 'v2.TRPO (5)'"}}}},
{"mark":{"type":"line","strokeWidth":1},"encoding":{
"x":{"field":"x","type":"quantitative","axis":{"orient":"bottom","title":"1e7","titleAnchor":"end","labels":false,"ticks":false,"domain":false,"titleY":9.5,"titleBaseline":"middle"}},
"y":{"field":"lo","type":"quantitative","axis":{"values":[-12.5,-10,-7.5,-5,-2.5,0,2.5],"format":".1f","title":null,"labelOverlap":false}},
"color":{"field":"s","type":"nominal"}}}]},
{"title":"Walker2d","width":143,"height":142,"data":{"name":"wk"},"resolve":{"axis":{"x":"independent"}},
"layer":[
{"mark":{"type":"line","strokeWidth":1},"encoding":{
"x":{"field":"x","type":"quantitative","scale":{"domain":[-0.05,1.05],"nice":false,"zero":false},"axis":{"values":[0,0.2,0.4,0.6,0.8,1],"format":".1f","title":"Timesteps","titleY":9.5,"titleBaseline":"middle","labelOverlap":false}},
"y":{"field":"hi","type":"quantitative","scale":{"domain":[-2.39,1.53],"nice":false,"zero":false},"axis":{"values":[-2,-1.5,-1,-0.5,0,0.5,1,1.5],"format":".1f","title":null,"labelOverlap":false}},
"color":{"field":"s","type":"nominal","scale":{"domain":["E","P","K","T"],"range":["#0000ff","#008000","#ff0000","#ff00ff"]},"legend":{"orient":"bottom-left","title":null,"labelExpr":"datum.label == 'E' ? 'v2.ESPO (5)' : datum.label == 'P' ? 'v2.PPO (5)' : datum.label == 'K' ? 'v2.PPO_KLRS (5)' : 'v2.TRPO (5)'"}}}},
{"mark":{"type":"line","strokeWidth":1},"encoding":{
"x":{"field":"x","type":"quantitative","axis":{"orient":"bottom","title":"1e7","titleAnchor":"end","labels":false,"ticks":false,"domain":false,"titleY":9.5,"titleBaseline":"middle"}},
"y":{"field":"lo","type":"quantitative","axis":{"values":[-2,-1.5,-1,-0.5,0,0.5,1,1.5],"format":".1f","title":null,"labelOverlap":false}},
"color":{"field":"s","type":"nominal"}}}]}
],"spacing":22,"bounds":"flush","resolve":{"scale":{"x":"independent","y":"independent","color":"independent"},"legend":{"color":"independent"}}}
]
}
